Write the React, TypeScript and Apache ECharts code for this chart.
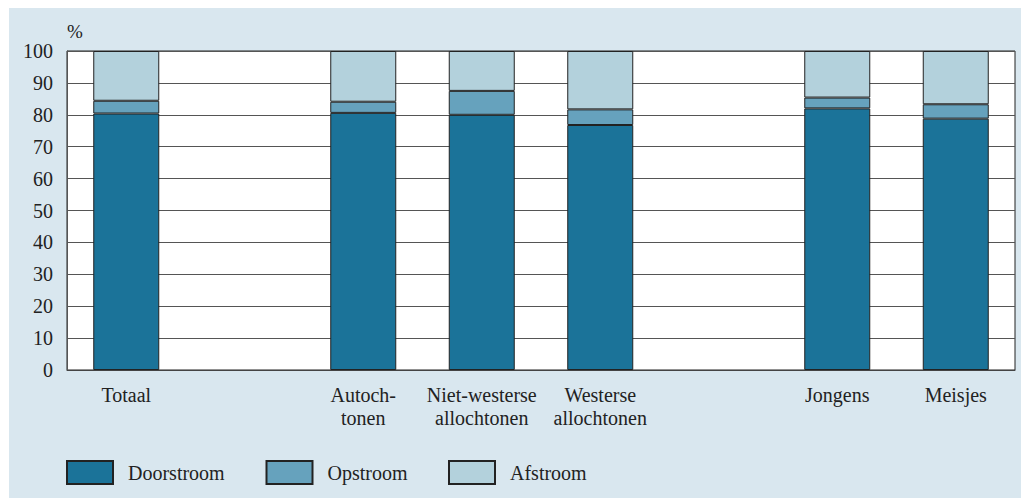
import React, { useEffect, useRef } from "react";
import * as echarts from "echarts";

const categories = [
  "Totaal",
  "",
  "Autoch-\ntonen",
  "Niet-westerse\nallochtonen",
  "Westerse\nallochtonen",
  "",
  "Jongens",
  "Meisjes",
];
const doorstroom = [80.4, null, 80.6, 80.0, 76.8, null, 82.0, 78.8];
const opstroom = [4.0, null, 3.5, 7.5, 4.9, null, 3.4, 4.5];
const afstroom = [15.6, null, 15.9, 12.5, 18.3, null, 14.6, 16.7];
const seriesNames = ["Doorstroom", "Opstroom", "Afstroom"];
const colors = ["#1b7399", "#66a2bd", "#b3d1dc"];

const FONT = "'Liberation Serif', 'Times New Roman', serif";

export default function App() {
  const ref = useRef<HTMLDivElement>(null);
  useEffect(() => {
    if (!ref.current) return;
    const chart = echarts.init(ref.current, null, { renderer: "svg" });
    const values = [doorstroom, opstroom, afstroom];
    const legendLefts = [66, 265.5, 448];
    chart.setOption({
      animation: false,
      backgroundColor: "transparent",
      textStyle: { fontFamily: FONT },
      grid: {
        left: 67,
        right: 6,
        top: 51,
        bottom: 128,
        show: true,
        backgroundColor: "#ffffff",
        borderColor: "#222",
        borderWidth: 1,
      },
      graphic: [
        {
          type: "text",
          left: 67,
          top: 22,
          style: { text: "%", font: `19px ${FONT}`, fill: "#222" },
        },
      ],
      legend: seriesNames.map((n, i) => ({
        data: [{ name: n, icon: "rect" }],
        left: legendLefts[i],
        top: 460,
        itemWidth: 46,
        itemHeight: 23,
        itemGap: 0,
        padding: 0,
        textStyle: {
          fontFamily: FONT,
          fontSize: 20,
          color: "#222",
          padding: [14, 0, 0, 10],
        },
      })),
      xAxis: {
        type: "category",
        data: categories,
        axisLine: { show: true, lineStyle: { color: "#444", width: 1 } },
        axisTick: { show: false },
        axisLabel: {
          interval: 0,
          margin: 13,
          fontFamily: FONT,
          fontSize: 20,
          lineHeight: 23,
          color: "#222",
        },
      },
      yAxis: {
        type: "value",
        min: 0,
        max: 100,
        interval: 10,
        axisLine: { show: true, lineStyle: { color: "#555", width: 1 } },
        axisTick: { show: false },
        splitLine: { show: true, lineStyle: { color: "#555", width: 1 } },
        axisLabel: {
          margin: 14,
          fontFamily: FONT,
          fontSize: 20,
          color: "#222",
        },
      },
      series: seriesNames.map((n, i) => ({
        name: n,
        type: "bar",
        stack: "total",
        barWidth: 66,
        data: values[i],
        itemStyle: { color: colors[i], borderColor: "#222", borderWidth: 1 },
        emphasis: { disabled: true },
      })),
    });
    return () => chart.dispose();
  }, []);

  return (
    <div
      style={{
        position: "fixed",
        left: 0,
        top: 0,
        width: 1021,
        height: 498,
        background: "#ffffff",
      }}
    >
      <div
        style={{
          position: "absolute",
          left: 9,
          top: 8,
          right: 0,
          bottom: 0,
          background: "#d9e7ef",
        }}
      />
      <div
        ref={ref}
        style={{ position: "absolute", left: 0, top: 0, width: 1021, height: 498 }}
      />
    </div>
  );
}
